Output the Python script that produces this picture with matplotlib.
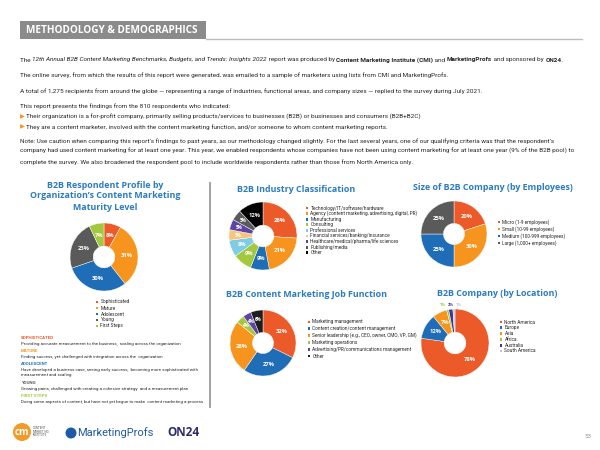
import matplotlib.pyplot as plt
import matplotlib.patches as pat
import numpy as np

# ---- data ----
maturity_labels = ['Sophisticated', 'Mature', 'Adolescent', 'Young', 'First Steps']
maturity_values = [8, 31, 30, 23, 7]

industry_labels = ['Technology/IT/software/hardware',
                   'Agency (content marketing, advertising, digital, PR)',
                   'Manufacturing', 'Consulting', 'Professional services',
                   'Financial services/banking/insurance',
                   'Healthcare/medical/pharma/life sciences',
                   'Publishing/media', 'Other']
industry_values = [26, 21, 9, 9, 8, 5, 5, 5, 12]

size_labels = ['Micro (1-9 employees)', 'Small (10-99 employees)',
               'Medium (100-999 employees)', 'Large (1,000+ employees)']
size_values = [20, 30, 25, 25]

job_labels = ['Marketing management', 'Content creation/content management',
              'Senior leadership (e.g., CEO, owner, CMO, VP, GM)',
              'Marketing operations', 'Advertising/PR/communications management',
              'Other']
job_values = [32, 27, 26, 4, 4, 6]

location_labels = ['North America', 'Europe', 'Asia', 'Africa', 'Australia', 'South America']
location_values = [78, 12, 7, 1, 2, 1]

maturity_defs = [
    ('SOPHISTICATED', ['Providing accurate measurement to the business,  scaling across the organization']),
    ('MATURE', ['Finding success, yet challenged with integration across the  organization']),
    ('ADOLESCENT', ['Have developed a business case, seeing early success,  becoming more sophisticated with',
                    'measurement and scaling']),
    ('YOUNG', ['Growing pains, challenged with creating a cohesive strategy  and a measurement plan']),
    ('FIRST STEPS', ['Doing some aspects of content, but have not yet begun to make  content marketing a process']),
]

# ---- colours ----
RED = '#EC5A2A'
ORANGE = '#F7941E'
BLUE = '#1E6DB6'
GRAY = '#5A5A5A'
LIME = '#A3C83D'
LBLUE = '#7ECDE2'
LORANGE = '#FBC47C'
PURPLE = '#5C43A4'
BLACK = '#000000'
NAVY = '#3A3996'
LAV = '#C6C0E2'
TITLE = '#2B7BC0'
TXT = '#262626'

W, H = 600, 450
BODY = ['Roboto', 'DejaVu Sans']
HEAD = ['Open Sans', 'DejaVu Sans']
TSIZE = 6.4

fig = plt.figure(figsize=(6, 4.5), dpi=100)
bg = fig.add_axes([0, 0, 1, 1])
bg.set_xlim(0, W)
bg.set_ylim(H, 0)
bg.axis('off')
renderer = fig.canvas.get_renderer()


def rich(x, y, parts, size=4.6):
    for s, kw in parts:
        opts = dict(fontsize=size, va='center', ha='left', color=TXT, family=BODY)
        opts.update(kw)
        t = bg.text(x, y, s, **opts)
        x += t.get_window_extent(renderer).width


def donut(cx, cy, r, values, colors, hole=0.32):
    ax = fig.add_axes([(cx - r) / W, 1 - (cy + r) / H, 2 * r / W, 2 * r / H])
    wedges, _ = ax.pie(values, colors=colors, startangle=90, counterclock=False,
                       radius=1, wedgeprops=dict(width=1 - hole, edgecolor='white', linewidth=0.3))
    ax.set_xlim(-1, 1)
    ax.set_ylim(-1, 1)
    ax.set_aspect('equal')
    ax.axis('off')
    return ax, wedges


def pct_labels(ax, wedges, values, hole=0.32, fs=4.2, min_in=3):
    rm = 1 - (1 - hole) / 2
    small = []
    for w, v in zip(wedges, values):
        mid = np.deg2rad((w.theta1 + w.theta2) / 2)
        if v >= min_in:
            f = fs if v >= 7 else 3.3
            rr = rm if v >= 7 else 0.74
            ax.text(rr * np.cos(mid), rr * np.sin(mid), f'{v}%', ha='center', va='center',
                    fontsize=f, color='white', fontweight='bold', family=HEAD)
        else:
            small.append((np.cos(mid), v, w.get_facecolor()))
    if small:
        xc = sum(s[0] for s in small) / len(small)
        for i, (x, v, c) in enumerate(small):
            ax.text(xc + (i - (len(small) - 1) / 2) * 0.24, 1.13, f'{v}%', ha='center', va='center',
                    fontsize=3.0, color=c, fontweight='bold', family=HEAD)


def legend(x, y, labels, colors, step, fs=3.4):
    for i, (l, c) in enumerate(zip(labels, colors)):
        yy = y + i * step
        bg.add_patch(pat.Rectangle((x - 1.4, yy - 1.4), 2.8, 2.8, color=c, lw=0))
        bg.text(x + 3.5, yy, l, fontsize=fs, va='center', ha='left', color=TXT, family=BODY)


# ---- header ----
bg.add_patch(pat.Rectangle((20, 21), 186, 18, color='#8B8B8B', lw=0))
bg.text(26, 30.5, 'METHODOLOGY & DEMOGRAPHICS', fontsize=7.2, fontweight='bold', color='white',
        va='center', ha='left', family=HEAD)
bg.plot([206, 582], [38.5, 38.5], color='#BDBDBD', lw=1)

rich(20, 60, [('The ', {}),
              ('12th Annual B2B Content Marketing Benchmarks, Budgets, and Trends: Insights 2022', {'style': 'italic'}),
              (' report was produced by ', {}),
              ('Content Marketing Institute (CMI)', {'fontweight': 'bold'}),
              (' and ', {}),
              ('MarketingProfs', {'fontweight': 'bold'}),
              (' and sponsored by ', {}),
              ('ON24', {'fontweight': 'bold'}),
              ('.', {})])
rich(20, 75, [('The online survey, from which the results of this report were generated, was emailed to a sample of marketers using lists from CMI and MarketingProfs.', {})])
rich(20, 91, [('A total of 1,275 recipients from around the globe \u2014 representing a range of industries, functional areas, and company sizes \u2014 replied to the survey during July 2021.', {})])
rich(20, 106, [('This report presents the findings from the 810 respondents who indicated:', {})])
rich(20, 116.5, [('\u25B6 ', {'color': ORANGE}),
                 ('Their organization is a for-profit company, primarily selling products/services to businesses (B2B) or businesses and consumers (B2B+B2C)', {})])
rich(20, 127, [('\u25B6 ', {'color': ORANGE}),
               ('They are a content marketer, involved with the content marketing function, and/or someone to whom content marketing reports.', {})])
rich(20, 141, [("Note: Use caution when comparing this report\u2019s findings to past years, as our methodology changed slightly. For the last several years, one of our qualifying criteria was that the respondent\u2019s", {})])
rich(20, 151.5, [('company had used content marketing for at least one year. This year, we enabled respondents whose companies have not been using content marketing for at least one year (9% of the B2B pool) to', {})])
rich(20, 162, [('complete the survey. We also broadened the respondent pool to include worldwide respondents rather than those from North America only.', {})])

# ---- left panel: maturity ----
for i, line in enumerate(['B2B Respondent Profile by', 'Organization\u2019s Content Marketing', 'Maturity Level']):
    bg.text(105, 185 + i * 11, line, fontsize=TSIZE, fontweight='bold', color=TITLE,
            ha='center', va='center', family=HEAD)
mat_colors = [RED, ORANGE, BLUE, GRAY, LIME]
ax, w = donut(104, 257, 34, maturity_values, mat_colors)
pct_labels(ax, w, maturity_values)
legend(97, 302, maturity_labels, mat_colors, 6)

def_colors = [RED, ORANGE, BLUE, GRAY, LIME]
yy = 338
for (head, lines), c in zip(maturity_defs, def_colors):
    bg.text(21, yy, head, fontsize=3.2, fontweight='bold', color=c, va='center', ha='left', family=BODY)
    yy += 5.5
    for l in lines:
        bg.text(21, yy, l, fontsize=3.15, color=TXT, va='center', ha='left', family=BODY)
        yy += 5.5
    yy += 2.2

bg.plot([210, 210], [183, 407], color='#9A9A9A', lw=1.3)

# ---- industry ----
bg.text(237, 189, 'B2B Industry Classification', fontsize=TSIZE, fontweight='bold', color=TITLE,
        ha='left', va='center', family=HEAD)
ind_colors = [RED, ORANGE, BLUE, LIME, LBLUE, LORANGE, PURPLE, GRAY, BLACK]
ax, w = donut(263, 236, 34, industry_values, ind_colors)
pct_labels(ax, w, industry_values)
legend(307, 208, industry_labels, ind_colors, 5.6)

# ---- size ----
bg.text(413, 187, 'Size of B2B Company (by Employees)', fontsize=TSIZE, fontweight='bold', color=TITLE,
        ha='left', va='center', family=HEAD)
size_colors = [RED, ORANGE, BLUE, GRAY]
ax, w = donut(454, 234, 33, size_values, size_colors)
pct_labels(ax, w, size_values)
legend(499, 222, size_labels, size_colors, 7)

# ---- job function ----
bg.text(226, 294, 'B2B Content Marketing Job Function', fontsize=TSIZE, fontweight='bold', color=TITLE,
        ha='left', va='center', family=HEAD)
job_colors = [RED, BLUE, ORANGE, LIME, PURPLE, '#1E1E1E']
ax, w = donut(263, 343, 33, job_values, job_colors)
pct_labels(ax, w, job_values)
legend(309, 322, job_labels, job_colors, 6.8)

# ---- location ----
bg.text(437, 294, 'B2B Company (by Location)', fontsize=TSIZE, fontweight='bold', color=TITLE,
        ha='left', va='center', family=HEAD)
loc_colors = [RED, BLUE, ORANGE, LIME, NAVY, LAV]
ax, w = donut(455, 343, 34, location_values, loc_colors)
pct_labels(ax, w, location_values)
legend(501, 322, location_labels, loc_colors, 5.8)

# ---- logos / footer ----
bg.add_patch(pat.Circle((22, 432), 9, color='#F39A2B', lw=0))
bg.text(22, 432.5, 'cm', fontsize=7, fontweight='bold', color='white', ha='center', va='center', family=HEAD)
for i, l in enumerate(['CONTENT', 'MARKETING', 'INSTITUTE']):
    bg.text(33, 428 + i * 3.6, l, fontsize=2.2, color='#555555', ha='left', va='center', family=BODY)
bg.add_patch(pat.Circle((71, 433), 5.5, color='#1F5AA6', lw=0))
bg.text(77, 433, 'MarketingProfs', fontsize=8, color='#1F5AA6', ha='left', va='center', family=BODY)
bg.text(167, 433, 'ON24', fontsize=8.5, fontweight='bold', color='#2B2D6E', ha='left', va='center', family=HEAD)
bg.text(588, 436, '53', fontsize=4.5, color='#999999', ha='center', va='center', family=BODY)

fig.savefig('out.png', dpi=100)
